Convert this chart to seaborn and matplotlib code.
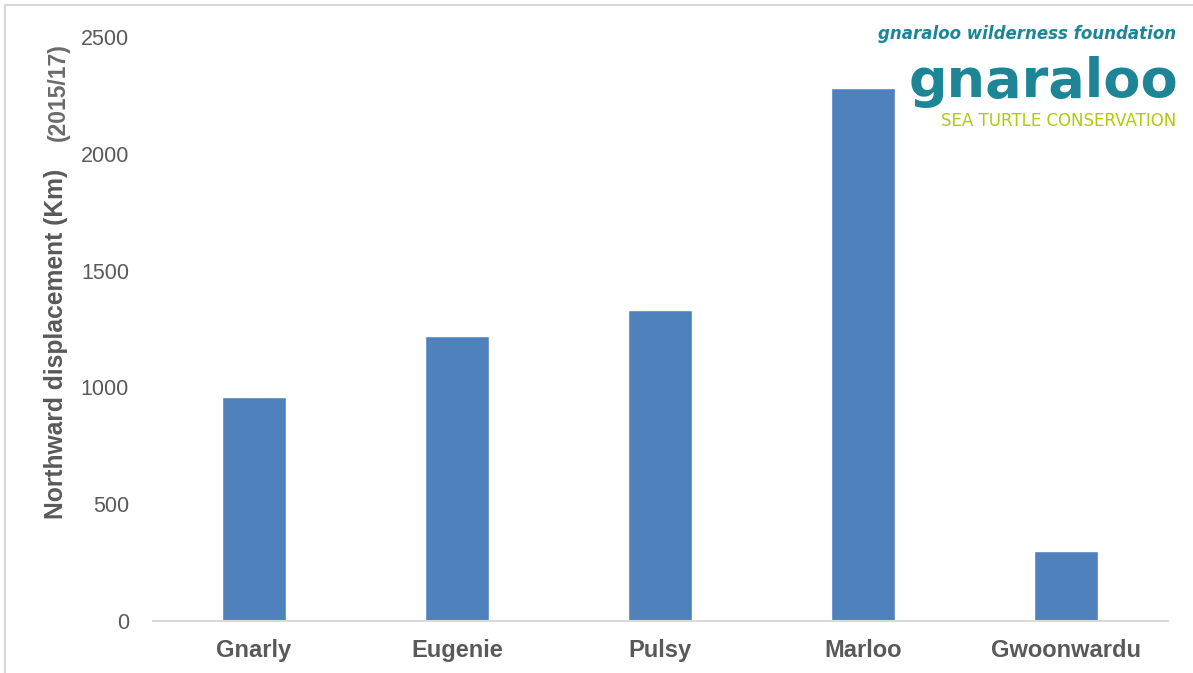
import matplotlib
matplotlib.use("Agg")
import matplotlib.pyplot as plt
import seaborn as sns
import pandas as pd
from matplotlib.lines import Line2D

turtles = ["Gnarly", "Eugenie", "Pulsy", "Marloo", "Gwoonwardu"]
displacement_km = [960, 1220, 1330, 2280, 300]
y_ticks = [0, 500, 1000, 1500, 2000, 2500]

sns.set_theme(style="white")
plt.rcParams["font.family"] = ["Liberation Sans", "DejaVu Sans"]

df = pd.DataFrame({"turtle": turtles, "km": displacement_km})

W, H = 1193, 673
fig = plt.figure(figsize=(W / 100, H / 100), dpi=100)
ax = fig.add_axes([152.5 / W, 52 / H, 1015 / W, 584 / H])

sns.barplot(data=df, x="turtle", y="km", color="#4F81BD", saturation=1,
            width=0.315, ax=ax)

ax.set_ylim(0, 2500)
ax.set_yticks(y_ticks)
ax.set_yticklabels([str(t) for t in y_ticks])
ax.set_xlim(-0.5, len(turtles) - 0.5)

text_grey = "#595959"
ax.tick_params(axis="y", length=0, pad=17, labelsize=15.5, labelcolor=text_grey)
ax.tick_params(axis="x", length=0, pad=13, labelsize=17, labelcolor=text_grey)
for lbl in ax.get_xticklabels():
    lbl.set_fontweight("bold")

for side in ["top", "right", "left"]:
    ax.spines[side].set_visible(False)
ax.spines["bottom"].set_color("#d9d9d9")
ax.spines["bottom"].set_linewidth(1.5)

ax.set_xlabel("")
ax.set_ylabel("")

# vertical axis title with the period note above it
fig.text(56 / W, 1 - 344 / H, "Northward displacement (Km)", rotation=90,
         ha="center", va="center", fontsize=17.7, fontweight="bold", color=text_grey)
fig.text(58 / W, 1 - 92 / H, "(2015/17)", rotation=90,
         ha="center", va="center", fontsize=16.5, fontweight="bold", color="#6b6b6b")

# organisation branding in the top right corner
teal = "#1d8595"
lime = "#b3c80a"
fig.text(1176 / W, 1 - 34 / H, "gnaraloo wilderness foundation", ha="right",
         va="center", fontsize=12, color=teal, fontstyle="italic",
         fontweight="bold", family=["DejaVu Sans"])
fig.text(1178 / W, 1 - 82 / H, "gnaraloo", ha="right", va="center",
         fontsize=39, color=teal, fontweight="bold", family=["DejaVu Sans"])
fig.text(1176 / W, 1 - 121 / H, "SEA TURTLE CONSERVATION", ha="right",
         va="center", fontsize=12, color=lime, family=["DejaVu Sans"])

# light frame along the top and left edges
fig.add_artist(Line2D([5 / W, 5 / W], [0, 1 - 5 / H], transform=fig.transFigure,
                      color="#d9d9d9", linewidth=1.5))
fig.add_artist(Line2D([5 / W, 1], [1 - 5 / H, 1 - 5 / H], transform=fig.transFigure,
                      color="#d9d9d9", linewidth=1.5))

fig.savefig("out.png", dpi=100, facecolor="white")
